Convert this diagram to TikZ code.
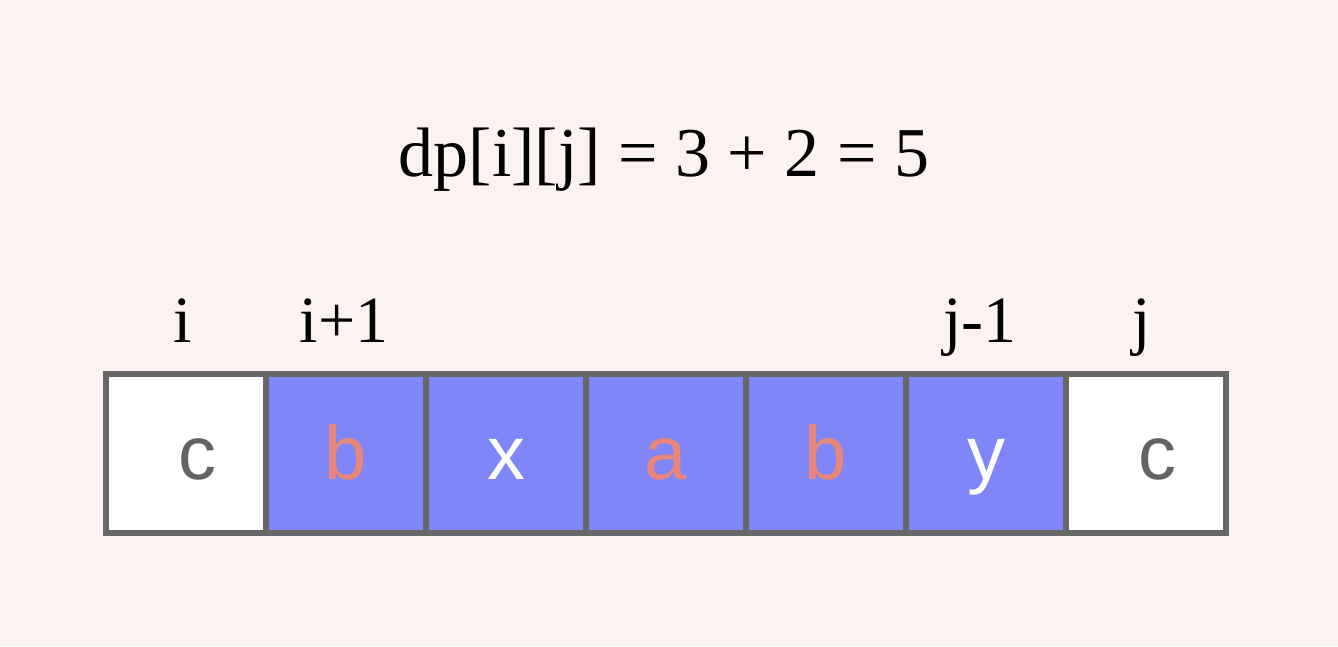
\documentclass[tikz,border=0pt]{standalone}
\usepackage{fontspec}
\setmainfont{Liberation Serif}
\newfontfamily\cellsans{Liberation Sans}
\definecolor{bgc}{HTML}{FCF2EF}
\definecolor{cellblue}{HTML}{7F86F8}
\definecolor{salmon}{HTML}{E8867A}
\definecolor{edgegray}{HTML}{676767}
\definecolor{lettergray}{HTML}{646464}
\begin{document}
\begin{tikzpicture}[x=1pt,y=1pt,
  cellbox/.style={draw=edgegray,line width=5.5pt,minimum width=160pt,minimum height=159pt,inner sep=0pt,outer sep=0pt},
  letter/.style={font=\cellsans\fontsize{76}{80}\selectfont,anchor=base,inner sep=0pt},
  idxlabel/.style={font=\fontsize{66}{72}\selectfont,anchor=base,inner sep=0pt},
  titlestyle/.style={font=\fontsize{70}{80}\selectfont,anchor=base,inner sep=0pt}]
\fill[bgc] (0,0) rectangle (1338,646);
\useasboundingbox (0,0) rectangle (1338,646);
% title
\node[titlestyle] (title) at (664,469) {dp[i][j] = 3 + 2 = 5};
% cells
\node[cellbox,fill=white] (c1) at (186,192.5) {};
\node[cellbox,fill=cellblue] (c2) at (346,192.5) {};
\node[cellbox,fill=cellblue] (c3) at (506,192.5) {};
\node[cellbox,fill=cellblue] (c4) at (666,192.5) {};
\node[cellbox,fill=cellblue] (c5) at (826,192.5) {};
\node[cellbox,fill=cellblue] (c6) at (986,192.5) {};
\node[cellbox,fill=white] (c7) at (1146,192.5) {};
% letters
\node[letter,text=lettergray] (l1) at (197,167) {c};
\node[letter,text=salmon] (l2) at (346,167) {b};
\node[letter,text=white] (l3) at (506,167) {x};
\node[letter,text=salmon] (l4) at (666,167) {a};
\node[letter,text=salmon] (l5) at (826,167) {b};
\node[letter,text=white] (l6) at (986,167) {y};
\node[letter,text=lettergray] (l7) at (1157,167) {c};
% index labels
\node[idxlabel] (ii) at (183,303) {i};
\node[idxlabel] (ip) at (344,303) {i+1};
\node[idxlabel] (jm) at (980,303) {j-1};
\node[idxlabel] (jj) at (1142,303) {j};
\end{tikzpicture}
\end{document}
